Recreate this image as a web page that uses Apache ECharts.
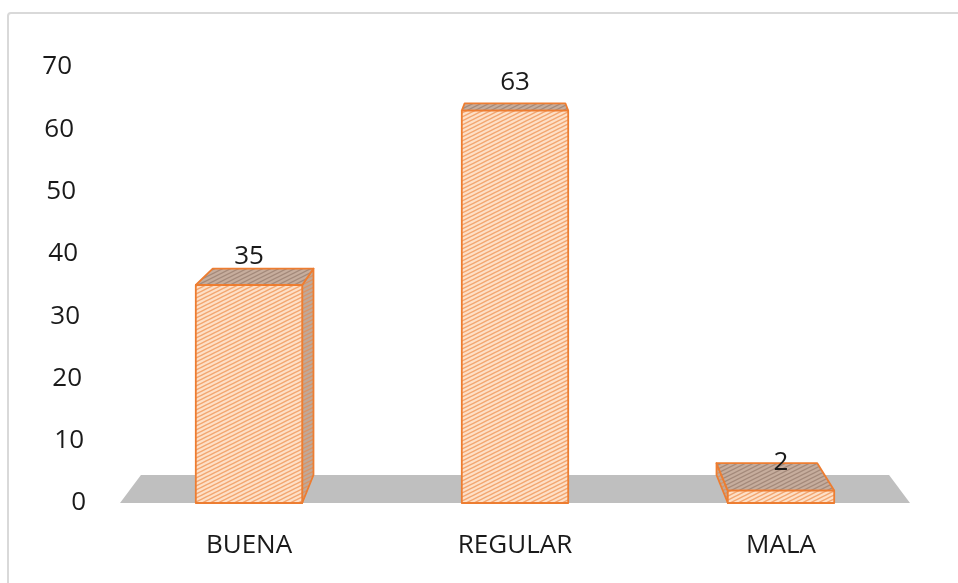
<!DOCTYPE html>
<html>
<head>
<meta charset="utf-8">
<script src="https://cdn.jsdelivr.net/npm/echarts@6/dist/echarts.min.js"></script>
<style>
html,body{margin:0;padding:0;background:#fff;}
#chart{width:958px;height:583px;}
</style>
</head>
<body>
<div id="chart"></div>
<script>
var categories = ['BUENA', 'REGULAR', 'MALA'];
var values = [35, 63, 2];
var yTicks = [0, 10, 20, 30, 40, 50, 60, 70];

function makePattern(bg, line, lw) {
  var W = 8, H = 4;
  var c = document.createElement('canvas');
  c.width = W; c.height = H;
  var g = c.getContext('2d');
  g.fillStyle = bg; g.fillRect(0, 0, W, H);
  g.strokeStyle = line; g.lineWidth = lw;
  for (var k = -3; k <= 5; k++) {
    var cc = H * k;
    g.beginPath();
    g.moveTo(-W, cc + W * 0.5);
    g.lineTo(2 * W, cc - W);
    g.stroke();
  }
  return { image: c, repeat: 'repeat' };
}
var frontPat = makePattern('#fde0c8', '#f3a671', 1.5);
var topPat = makePattern('#c6ad9d', '#a48a7b', 1.3);
var sidePat = makePattern('#bfa99a', '#d99366', 1.3);

var EDGE = '#ed7d31';
var PERSP = 0.053;
var VY = -25;

function backPt(p, vx) {
  return [p[0] + PERSP * (vx - p[0]), p[1] + PERSP * (VY - p[1])];
}

var chart = echarts.init(document.getElementById('chart'));

var rich = {};
yTicks.forEach(function (v) {
  rich['p' + v] = { fontFamily: 'Open Sans', fontSize: 26, color: '#1a1a1a', padding: [0, Math.round(v * 0.2), 0, 0] };
});

var option = {
  animation: false,
  grid: { left: 116, right: 44, top: 67, bottom: 80, containLabel: false },
  graphic: [{
    type: 'rect', z: -10,
    shape: { x: 8, y: 13, width: 980, height: 600, r: 3 },
    style: { fill: 'none', stroke: '#d9d9d9', lineWidth: 2 }
  }],
  xAxis: {
    type: 'category', data: categories,
    axisLine: { show: false }, axisTick: { show: false },
    axisLabel: { margin: 30, fontFamily: 'Open Sans', fontSize: 26, color: '#1a1a1a' }
  },
  yAxis: {
    type: 'value', min: 0, max: 70, interval: 10,
    axisLine: { show: false }, axisTick: { show: false }, splitLine: { show: false },
    axisLabel: {
      margin: 30,
      formatter: function (v) { return '{p' + v + '|' + v + '}'; },
      rich: rich
    }
  },
  series: [{
    type: 'custom', z: 1,
    data: [[0, 0]],
    renderItem: function (params, api) {
      var n = categories.length;
      var band = api.size([1, 0])[0];
      var l = api.coord([0, 0]); var r = api.coord([n - 1, 0]);
      var vx = (l[0] + r[0]) / 2;
      var fl = [l[0] - band / 2 + 4, l[1]];
      var fr = [r[0] + band / 2 - 4, r[1]];
      return {
        type: 'polygon',
        shape: { points: [fl, fr, backPt(fr, vx), backPt(fl, vx)] },
        style: { fill: '#bfbfbf', stroke: null }
      };
    }
  }, {
    type: 'custom', z: 2,
    data: values.map(function (v, i) { return [i, v]; }),
    renderItem: function (params, api) {
      var n = categories.length;
      var i = api.value(0), v = api.value(1);
      var band = api.size([1, 0])[0];
      var l = api.coord([0, 0]); var r = api.coord([n - 1, 0]);
      var vx = (l[0] + r[0]) / 2;
      var top = api.coord([i, v]);
      var base = api.coord([i, 0]);
      var w = band * 0.4;
      var x0 = top[0] - w / 2, x1 = top[0] + w / 2, y0 = top[1], y1 = base[1];
      var children = [];
      var es = { stroke: EDGE, lineWidth: 1.8, lineJoin: 'round' };
      if (top[0] < vx - 5) {
        children.push({ type: 'polygon', shape: { points: [[x1, y0], [x1, y1], backPt([x1, y1], vx), backPt([x1, y0], vx)] },
          style: Object.assign({ fill: sidePat }, es) });
      } else if (top[0] > vx + 5) {
        children.push({ type: 'polygon', shape: { points: [[x0, y0], [x0, y1], backPt([x0, y1], vx), backPt([x0, y0], vx)] },
          style: Object.assign({ fill: sidePat }, es) });
      }
      children.push({ type: 'polygon', shape: { points: [[x0, y0], [x1, y0], backPt([x1, y0], vx), backPt([x0, y0], vx)] },
        style: Object.assign({ fill: topPat }, es) });
      children.push({ type: 'rect', shape: { x: x0, y: y0, width: w, height: y1 - y0 },
        style: Object.assign({ fill: frontPat }, es) });
      children.push({ type: 'text', style: { text: String(v), x: top[0], y: y0 - 28, align: 'center', verticalAlign: 'middle',
        fontFamily: 'Open Sans', fontSize: 26, fill: '#1a1a1a' } });
      return { type: 'group', children: children };
    }
  }]
};
chart.setOption(option);
</script>
</body>
</html>
